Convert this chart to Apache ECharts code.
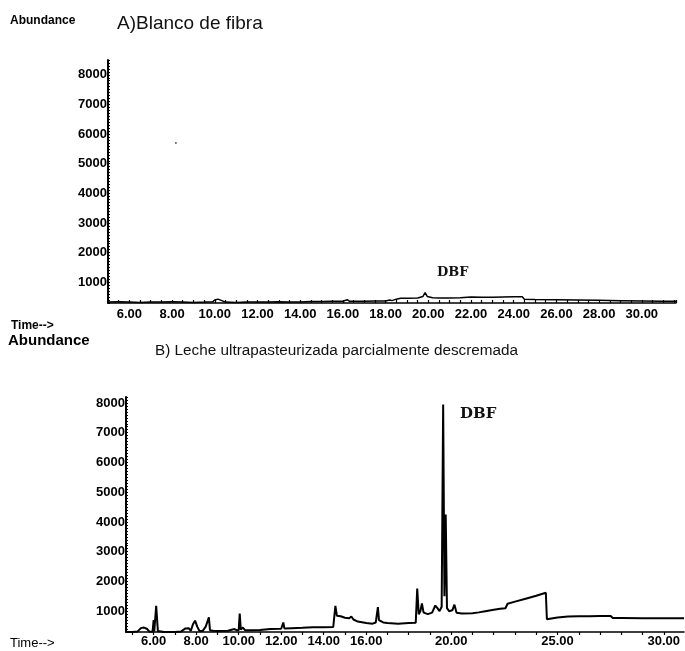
<!DOCTYPE html>
<html>
<head>
<meta charset="utf-8">
<script src="https://cdn.jsdelivr.net/npm/echarts@6/dist/echarts.min.js"></script>
<style>
html,body{margin:0;padding:0;background:#fff;}
#c{width:685px;height:651px;}
</style>
</head>
<body>
<div id="c"></div>
<script>
// ---- Data ----
const topTime = [5.0,5.5,6.0,6.5,7.0,7.5,8.0,8.5,9.0,9.5,9.9,10.0,10.15,10.3,10.5,11.0,11.5,12.0,12.5,13.0,13.5,14.0,14.5,15.0,15.5,16.0,16.2,16.3,16.5,17.0,17.5,18.0,18.2,18.3,18.5,18.7,19.0,19.5,19.75,19.85,19.95,20.2,20.5,21.0,21.5,22.0,22.5,23.0,23.5,24.0,24.4,24.5,25.0,26.0,27.0,28.0,29.0,30.0,31.0,31.6];
const topAbund = [330,340,330,320,330,330,340,330,320,330,340,400,430,390,330,320,330,330,330,340,330,330,350,350,360,360,410,360,360,360,370,370,400,380,430,460,460,470,520,650,520,480,470,470,480,500,490,490,500,510,510,430,420,410,400,390,380,370,360,360];
const topStray = [[8.18, 5700]];

const botTime = [4.7,5.0,5.25,5.4,5.55,5.7,5.8,5.95,6.0,6.03,6.08,6.12,6.16,6.2,6.5,7.0,7.3,7.5,7.65,7.75,7.85,7.95,8.05,8.15,8.3,8.45,8.6,8.65,8.8,9.0,9.5,9.8,9.9,10.0,10.05,10.1,10.2,10.3,10.5,11.0,11.5,12.0,12.1,12.15,12.5,13.0,13.5,14.0,14.45,14.55,14.62,14.8,15.0,15.2,15.3,15.4,15.6,16.0,16.3,16.45,16.55,16.6,16.8,17.0,17.5,18.0,18.33,18.4,18.47,18.55,18.62,18.7,18.9,19.1,19.25,19.35,19.45,19.55,19.62,19.68,19.74,19.8,19.9,20.05,20.15,20.25,20.5,21.0,21.3,21.6,22.0,22.3,22.55,22.65,23.0,23.5,24.0,24.45,24.5,25.0,25.5,26.0,26.5,27.0,27.5,27.6,28.0,29.0,30.0,30.95];
const botAbund = [300,300,320,430,450,400,310,320,700,320,330,1180,1150,330,300,300,320,420,430,340,560,680,480,340,330,480,790,360,340,330,340,400,360,360,920,380,450,360,360,370,400,410,620,420,430,440,460,460,470,1180,850,830,780,760,820,720,650,600,580,620,1140,700,620,600,580,600,610,1760,900,1000,1260,950,900,950,1190,1100,1000,1150,7950,1500,4250,1100,1000,1030,1220,950,920,930,960,1000,1050,1080,1100,1250,1320,1420,1520,1620,730,790,820,830,830,840,840,770,770,760,760,760];

const topXLabels = [6,8,10,12,14,16,18,20,22,24,26,28,30];
const botXLabels = [6,8,10,12,14,16,20,25,30];
const botXTicks = [5,6,7,8,9,10,11,12,13,14,15,16,17,18,19,20,21,22,23,24,25,26,27,28,29,30];
const yLabels = [1000,2000,3000,4000,5000,6000,7000,8000];

const topTitle = 'A)Blanco de fibra';
const botTitle = 'B) Leche ultrapasteurizada parcialmente descremada';
const peakName = 'DBF';

// ---- Chart ----
const zip = (a, b) => a.map((t, i) => [t, b[i]]);
const labelFont = {color:'#000', fontFamily:'Liberation Sans, Arial', fontWeight:'bold', fontSize:13};

const chart = echarts.init(document.getElementById('c'), null, {renderer:'canvas'});
chart.setOption({
  backgroundColor:'#fff',
  animation:false,
  grid:[
    {left:108, right:9, top:60, bottom:348},
    {left:126, right:1, top:397, bottom:19}
  ],
  xAxis:[
    {gridIndex:0, type:'value', min:5, max:31.6, interval:0.5,
     axisLine:{onZero:false, lineStyle:{color:'#000', width:1.5}},
     axisTick:{inside:true, length:3, lineStyle:{color:'#000', width:1.2}},
     axisLabel:Object.assign({margin:5, customValues:topXLabels, formatter:v=>v.toFixed(2)}, labelFont),
     splitLine:{show:false}},
    {gridIndex:1, type:'value', min:4.7, max:30.95,
     axisLine:{onZero:false, lineStyle:{color:'#000', width:1.5}},
     axisTick:{inside:false, length:3, customValues:botXTicks, lineStyle:{color:'#000', width:1.2}},
     axisLabel:Object.assign({margin:3, customValues:botXLabels, formatter:v=>v.toFixed(2)}, labelFont),
     splitLine:{show:false}}
  ],
  yAxis:[
    {gridIndex:0, type:'value', min:300, max:8500, interval:100,
     axisLine:{show:true, onZero:false, lineStyle:{color:'#000', width:2}},
     axisTick:{inside:true, length:2, lineStyle:{color:'#000', width:1}},
     axisLabel:Object.assign({margin:1, customValues:yLabels, formatter:v=>String(v)}, labelFont),
     splitLine:{show:false}},
    {gridIndex:1, type:'value', min:300, max:8200, interval:100,
     axisLine:{show:true, onZero:false, lineStyle:{color:'#000', width:2}},
     axisTick:{inside:true, length:2, lineStyle:{color:'#000', width:1}},
     axisLabel:Object.assign({margin:1, customValues:yLabels, formatter:v=>String(v)}, labelFont),
     splitLine:{show:false}}
  ],
  series:[
    {type:'line', xAxisIndex:0, yAxisIndex:0, data:zip(topTime, topAbund), showSymbol:false,
     lineStyle:{color:'#000', width:1.5}, silent:true},
    {type:'scatter', xAxisIndex:0, yAxisIndex:0, data:topStray, symbolSize:2,
     itemStyle:{color:'#333'}, silent:true},
    {type:'line', xAxisIndex:1, yAxisIndex:1, data:zip(botTime, botAbund), showSymbol:false,
     lineStyle:{color:'#000', width:2}, silent:true}
  ],
  graphic:[
    {type:'text', left:10, top:15, style:{text:'Abundance', fill:'#000', font:'bold 12px "Liberation Sans", Arial'}},
    {type:'text', left:117, top:14, style:{text:topTitle, fill:'#111', font:'19px "Liberation Sans", Arial'}},
    {type:'text', left:11, top:320, style:{text:'Time-->', fill:'#000', font:'bold 12px "Liberation Sans", Arial'}},
    {type:'text', left:8, top:333, style:{text:'Abundance', fill:'#000', font:'bold 15px "Liberation Sans", Arial'}},
    {type:'text', left:155, top:343, style:{text:botTitle, fill:'#111', font:'15.3px "Liberation Sans", Arial'}},
    {type:'text', left:10, top:637, style:{text:'Time-->', fill:'#000', font:'13px "Liberation Sans", Arial'}},
    {type:'text', left:437, top:266, style:{text:peakName, fill:'#111', font:'bold 13px "DejaVu Serif", serif'}},
    {type:'text', left:460, top:407, style:{text:peakName, fill:'#111', font:'bold 15px "DejaVu Serif", serif'}}
  ]
});
</script>
</body>
</html>
